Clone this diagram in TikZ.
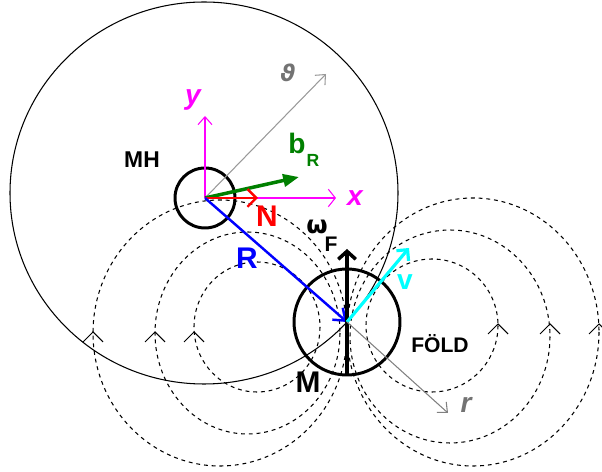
\documentclass[tikz,border=0pt]{standalone}
\usepackage{fontspec}
\setmainfont{Liberation Sans}
\newfontfamily\greekfont{DejaVu Sans}
\usetikzlibrary{arrows.meta}
\definecolor{axisgray}{gray}{0.6}
\definecolor{textgray}{gray}{0.45}
\definecolor{brgreen}{rgb}{0,0.5,0}
\definecolor{axismagenta}{rgb}{1,0,1}
\definecolor{vcyan}{rgb}{0,1,1}
\definecolor{rblue}{rgb}{0,0,1}
\definecolor{nred}{rgb}{1,0,0}
\tikzset{
  thin line/.style={line width=0.6pt},
  field line/.style={line width=0.6pt, dash pattern=on 2.2pt off 2.2pt},
  body/.style={line width=1.7pt},
  lbl/.style={inner sep=0pt, font=\bfseries\fontsize{16}{16}\selectfont},
  small lbl/.style={inner sep=0pt, font=\bfseries\fontsize{12}{12}\selectfont},
}

\begin{document}
\begin{tikzpicture}[x=0.02cm, y=-0.02cm]
    \useasboundingbox (0,0) rectangle (602,472);
    % centres of the two bodies
    \coordinate (mh) at (205,198);
    \coordinate (fold) at (347,322);

    % field lines round the Earth (left and right families)
    \foreach \cx/\cy/\rx/\ry in {257/327/63/65, 247.5/333/92.5/101, 220/333/127/133}{
      \draw[field line] (\cx,\cy) ellipse [x radius=\rx, y radius=\ry];
      \draw[thin line] (\cx-\rx-10,342) -- (\cx-\rx,332) -- (\cx-\rx+10,342);
    }
    \foreach \cx/\cy/\rx/\ry in {432/325.5/66/66.5, 450/336.5/100/106.5, 473/332/126/134}{
      \draw[field line] (\cx,\cy) ellipse [x radius=\rx, y radius=\ry];
      \draw[thin line] (\cx+\rx-10,334) -- (\cx+\rx,324) -- (\cx+\rx+10,334);
    }

    % orbit
    \draw[thin line] (204,193) ellipse [x radius=194, y radius=191];

    % the two bodies
    \draw[body] (mh) circle [radius=30];
    \draw[body] (fold) circle [radius=53];

    % tips of the vectors
    \coordinate (thtip) at (326,74);
    \coordinate (ytip) at (205,116);
    \coordinate (xtip) at (336,198);
    \coordinate (btip) at (299,177);
    \coordinate (ntip) at (258,198);
    \coordinate (omfoot) at (347,374);
    \coordinate (omtip) at (347,249);
    \coordinate (vtip) at (409,248);
    \coordinate (rtip) at (448,413);

    % axes at the centre
    \draw[thin line, axisgray, -{Straight Barb[length=4.5pt,width=8pt]}] (mh) -- (thtip);
    \draw[thin line, axismagenta, -{Straight Barb[length=4.5pt,width=8pt]}] (mh) -- (ytip);
    \draw[thin line, axismagenta, -{Straight Barb[length=4pt,width=10pt]}] (mh) -- (xtip);

    % vectors
    \draw[line width=2pt, brgreen, -{Triangle[length=9pt,width=7pt]}] (mh) -- (btip);
    \draw[line width=1.4pt, nred, -{Straight Barb[length=5pt,width=10pt]}] (mh) -- (ntip);
    \draw[line width=1.4pt, rblue, -{Straight Barb[length=6pt,width=9pt]}] (mh) -- (fold);
    \draw[line width=2pt, black, -{Straight Barb[length=4.5pt,width=10pt]}] (omfoot) -- (omtip);
    \draw[line width=1.8pt, vcyan, -{Straight Barb[length=4.5pt,width=9pt]}] (fold) -- (vtip);
    \draw[thin line, gray, -{Straight Barb[length=4.5pt,width=8pt]}] (fold) -- (rtip);

    % labels
    \node[small lbl, font=\bfseries\fontsize{13}{13}\selectfont] (mhlab) at (142,160) {MH};
    \node[lbl, axismagenta, font=\bfseries\itshape\fontsize{16}{16}\selectfont] (ylab) at (193,100) {y};
    \node[lbl, axismagenta, font=\bfseries\itshape\fontsize{16}{16}\selectfont] (xlab) at (355,198) {x};
    \node[lbl, textgray, font=\greekfont\bfseries\itshape\fontsize{13}{13}\selectfont] (thlab) at (288,73) {ϑ};
    \node[lbl, brgreen] (blab) at (297,143) {b};
    \node[small lbl, brgreen, font=\bfseries\fontsize{10}{10}\selectfont] (bsub) at (313,160) {R};
    \node[lbl, nred, font=\bfseries\fontsize{17}{17}\selectfont] (nlab) at (267,216) {N};
    \node[small lbl, font=\greekfont\bfseries\fontsize{14}{14}\selectfont] (omlab) at (317,227) {ω};
    \node[small lbl] (flab) at (331,244) {F};
    \node[lbl, rblue, font=\bfseries\fontsize{17}{17}\selectfont] (rlab) at (247,258) {R};
    \node[lbl, vcyan] (vlab) at (405,282) {v};
    \node[small lbl] (foldlab) at (440,344) {FÖLD};
    \node[lbl, font=\bfseries\fontsize{17}{17}\selectfont] (mlab) at (308,382) {M};
    \node[lbl, textgray, font=\bfseries\itshape\fontsize{16}{16}\selectfont] (rrlab) at (466,405) {r};
\end{tikzpicture}
\end{document}
